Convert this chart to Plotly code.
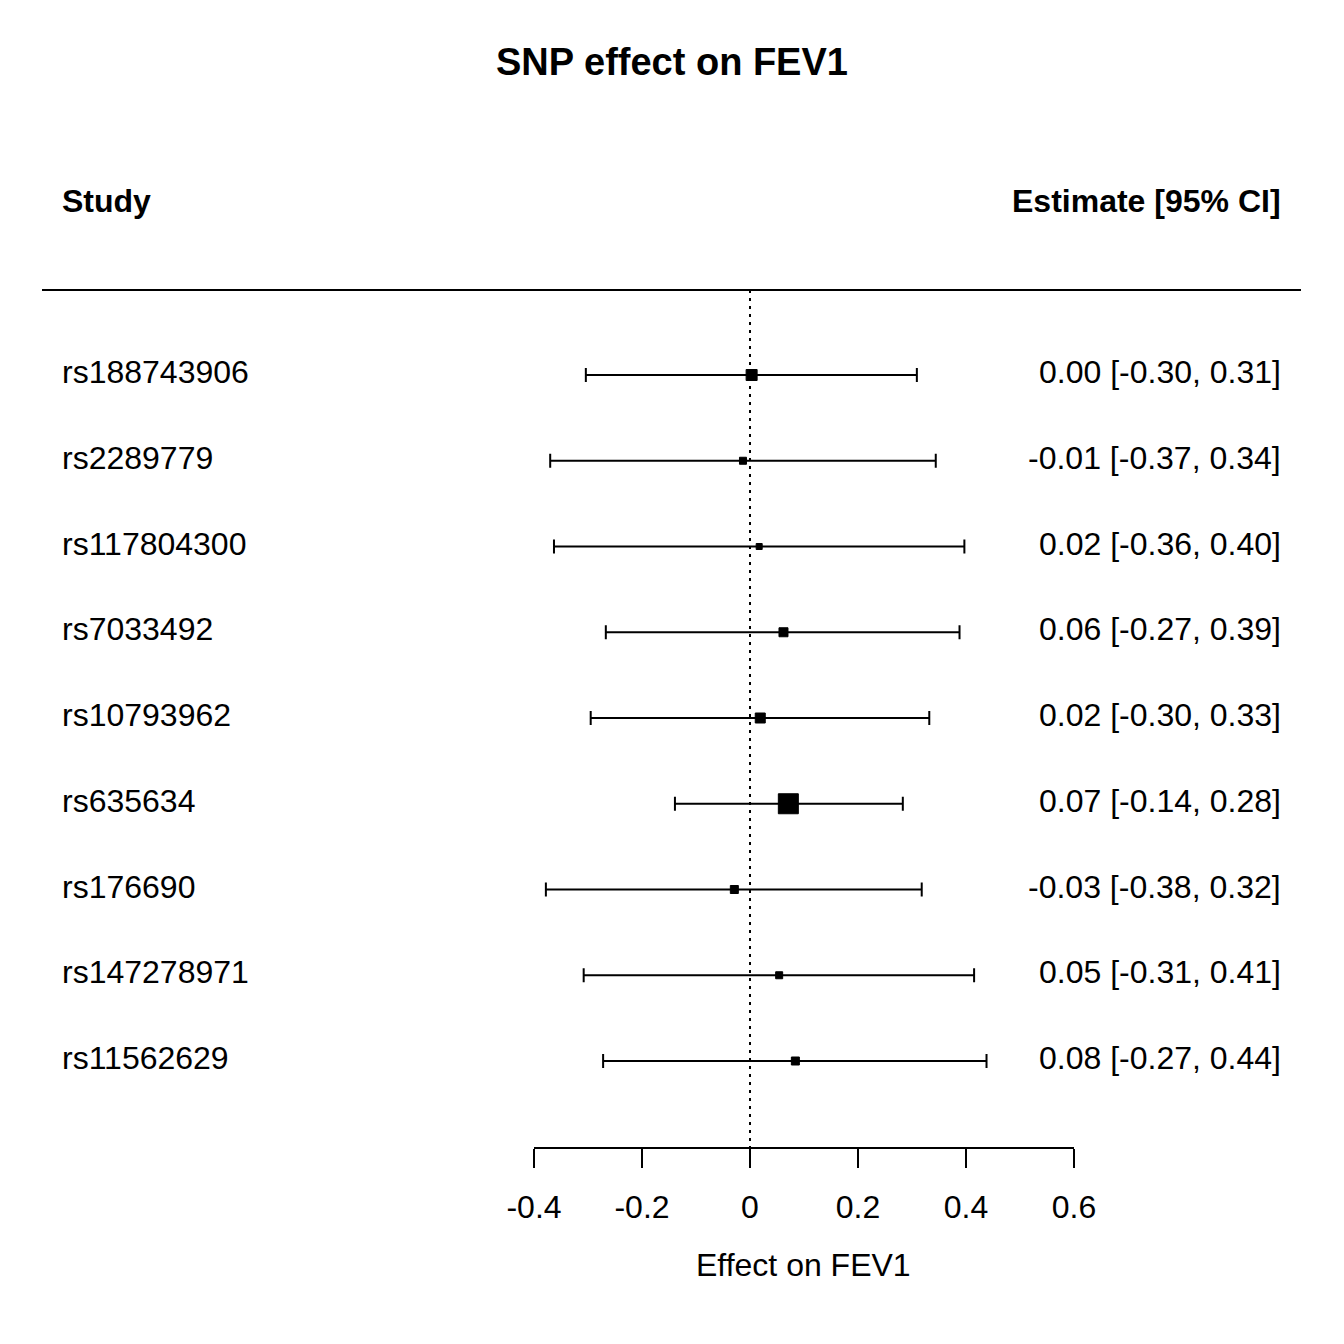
import plotly.graph_objects as go

studies = ["rs188743906", "rs2289779", "rs117804300", "rs7033492", "rs10793962",
           "rs635634", "rs176690", "rs147278971", "rs11562629"]
estimate = [0.003, -0.013, 0.017, 0.062, 0.019, 0.071, -0.029, 0.054, 0.084]
ci_low = [-0.304, -0.370, -0.363, -0.267, -0.295, -0.139, -0.378, -0.308, -0.272]
ci_high = [0.309, 0.344, 0.397, 0.388, 0.332, 0.283, 0.318, 0.415, 0.438]
est_labels = ["0.00 [-0.30, 0.31]", "-0.01 [-0.37, 0.34]", "0.02 [-0.36, 0.40]",
              "0.06 [-0.27, 0.39]", "0.02 [-0.30, 0.33]", "0.07 [-0.14, 0.28]",
              "-0.03 [-0.38, 0.32]", "0.05 [-0.31, 0.41]", "0.08 [-0.27, 0.44]"]
tick_vals = [-0.4, -0.2, 0, 0.2, 0.4, 0.6]
tick_text = ["-0.4", "-0.2", "0", "0.2", "0.4", "0.6"]
box_px = [11, 7, 6, 9, 10, 20, 8, 7, 8]

W = H = 1344
FONT = "Liberation Sans, Arial, Helvetica, sans-serif"
row0, step = 375, 85.75
def v(p):
    return (p - row0) / step

rows = list(range(len(studies)))
err_plus = [h - e for h, e in zip(ci_high, estimate)]
err_minus = [e - l for e, l in zip(estimate, ci_low)]

fig = go.Figure()
# zero reference line (dotted)
fig.add_trace(go.Scatter(x=[0, 0], y=[v(290), v(1148)], mode="lines",
                         line=dict(color="black", width=2, dash="3px,5px"),
                         xaxis="x2", yaxis="y", hoverinfo="skip", showlegend=False))
fig.add_trace(go.Scatter(
    x=estimate, y=rows, mode="markers", xaxis="x2", yaxis="y",
    marker=dict(symbol="square", size=box_px, color="black", opacity=1,
                line=dict(width=1, color="black")),
    error_x=dict(type="data", symmetric=False, array=err_plus, arrayminus=err_minus,
                 color="black", thickness=2, width=7),
    showlegend=False))

LX, RX = 60 / W, 1283 / W
annotations = []
for i, (s, lab) in enumerate(zip(studies, est_labels)):
    annotations.append(dict(x=LX, xref="paper", y=i, yref="y", text=s, yshift=3,
                            showarrow=False, xanchor="left", yanchor="middle",
                            font=dict(size=32, family=FONT, color="black")))
    annotations.append(dict(x=RX, xref="paper", y=i, yref="y", text=lab, yshift=3,
                            showarrow=False, xanchor="right", yanchor="middle",
                            font=dict(size=32, family=FONT, color="black")))
annotations += [
    dict(x=LX, xref="paper", y=v(201), yref="y", text="<b>Study</b>", showarrow=False,
         xanchor="left", yanchor="middle", font=dict(size=32, family=FONT, color="black")),
    dict(x=RX, xref="paper", y=v(201), yref="y", text="<b>Estimate [95% CI]</b>",
         showarrow=False, xanchor="right", yanchor="middle",
         font=dict(size=32, family=FONT, color="black")),
    dict(x=0.5, xref="paper", y=1 - 62 / H, yref="paper", text="<b>SNP effect on FEV1</b>",
         showarrow=False, xanchor="center", yanchor="middle",
         font=dict(size=38, family=FONT, color="black")),
    dict(x=(803 / W), xref="paper", y=1 - 1265 / H, yref="paper", text="Effect on FEV1",
         showarrow=False, xanchor="center", yanchor="middle",
         font=dict(size=32, family=FONT, color="black")),
]

fig.update_layout(
    width=W, height=H, margin=dict(l=0, r=0, t=0, b=0, autoexpand=False),
    plot_bgcolor="white", paper_bgcolor="white",
    font=dict(family=FONT, color="black"),
    xaxis=dict(domain=[0, 1], range=[(0 - 750) / 540, (W - 750) / 540], visible=False,
               automargin=False),
    xaxis2=dict(domain=[534 / W, 1074 / W], range=[-0.4, 0.6], anchor="free",
                position=1 - 1148 / H, side="bottom", showline=True, linewidth=2,
                linecolor="black", ticks="outside", ticklen=19, tickwidth=2,
                tickcolor="black", tickvals=tick_vals, ticktext=tick_text,
                tickfont=dict(size=32, family=FONT, color="black"), automargin=False,
                showgrid=False, zeroline=False, ticklabelstandoff=12),
    yaxis=dict(domain=[0, 1], range=[v(H), v(0)], visible=False, automargin=False),
    shapes=[dict(type="line", xref="paper", yref="y", x0=42 / W, x1=1301 / W,
                 y0=v(290), y1=v(290), line=dict(color="black", width=2))],
    annotations=annotations,
)
fig.write_html("out.html")
